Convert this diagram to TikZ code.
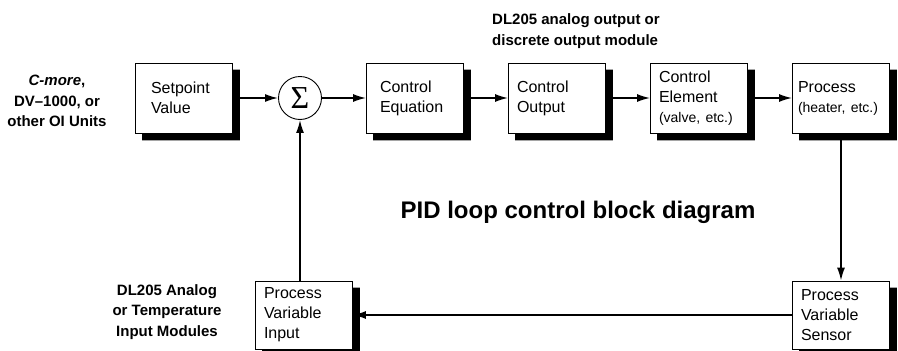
\documentclass[tikz,border=0pt]{standalone}
\usepackage{fontspec}
\setmainfont{Liberation Sans}
\newfontfamily\sigfont{Liberation Serif}
\usetikzlibrary{arrows.meta}

\begin{document}
\begin{tikzpicture}[>={Latex[length=13pt,width=8pt]}, x=1pt, y=-1pt,
    blk/.style={draw, fill=white, line width=0.8pt, minimum width=97pt, minimum height=70pt,
      text width=80pt, inner xsep=8.5pt, align=left, font=\fontsize{16}{20}\selectfont},
    lbl/.style={font=\bfseries\fontsize{15}{20.5}\selectfont, align=center, inner sep=0pt},
    wire/.style={line width=1.6pt}]

    \useasboundingbox (0,0) rectangle (898,351);

    \draw(184,98) node[blk, text width=66pt, inner xsep=15.5pt] (set) {Setpoint\\Value};
    \draw(300,98) node[draw, circle, fill=white, line width=0.9pt, minimum size=43pt, inner sep=0pt] (sig) {\sigfont\fontsize{32}{32}\selectfont Σ};
    \draw(415,98) node[blk, text width=70pt, inner xsep=13.5pt] (eq) {Control\\Equation};
    \draw(557,98) node[blk] (out) {Control\\Output};
    \draw(699,98) node[blk] (elem) {Control\\Element\\{\fontsize{14}{20}\selectfont(valve, etc.)}};
    \draw(841,98) node[blk, text width=86pt, inner xsep=5.5pt] (proc) {Process\\{\fontsize{14}{20}\selectfont(heater, etc.)}};
    \draw(841,315) node[blk, minimum height=68pt] (sens) {Process\\Variable\\Sensor};
    \draw(304,315) node[blk, minimum height=68pt] (pvin) {Process\\Variable\\Input};

    \draw(57,101) node[lbl] (oi) {\textit{C-more},\\DV--1000, or\\other OI Units};
    \draw(492,31) node[lbl, anchor=west, align=left] (aout) {DL205 analog output or\\discrete output module};
    \draw(167,312) node[lbl] (ain) {DL205 Analog\\or Temperature\\Input Modules};
    \draw(578,218) node[anchor=base, font=\bfseries\fontsize{24}{28}\selectfont] (title) {PID loop control block diagram};

    \foreach \n in {set,eq,out,elem,proc,sens,pvin}
        \fill ([yshift=-7pt]\n.north east) -- ([shift={(7pt,-7pt)}]\n.north east)
            -- ([shift={(7pt,-7pt)}]\n.south east) -- ([shift={(7pt,-7pt)}]\n.south west)
            -- ([xshift=7pt]\n.south west) -- (\n.south east) -- cycle;

    \draw[wire, ->] (set) -- (sig);
    \draw[wire, ->] (sig) -- (eq);
    \draw[wire, ->] (eq) -- (out);
    \draw[wire, ->] (out) -- (elem);
    \draw[wire, ->] (elem) -- (proc);
    \draw[wire, ->] (proc) -- (sens);
    \draw[wire, ->] (sens) -- (pvin);
    \draw[wire, ->] (pvin.north -| sig.south) -- (sig.south);

\end{tikzpicture}
\end{document}
